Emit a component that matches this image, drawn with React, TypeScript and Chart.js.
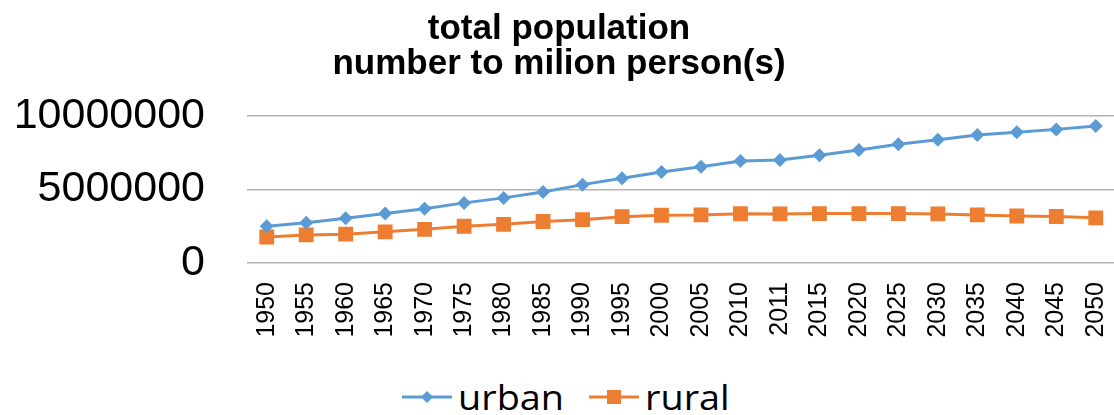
import React, { useEffect, useRef } from "react";
import { Chart, registerables } from "chart.js";

Chart.register(...registerables);

const years = ["1950","1955","1960","1965","1970","1975","1980","1985","1990","1995","2000","2005","2010","2011","2015","2020","2025","2030","2035","2040","2045","2050"];
const urban = [2500000,2740000,3050000,3370000,3690000,4090000,4430000,4830000,5330000,5770000,6190000,6550000,6940000,7010000,7330000,7690000,8080000,8380000,8700000,8900000,9090000,9320000];
const rural = [1770000,1910000,1960000,2120000,2290000,2500000,2630000,2820000,2950000,3150000,3250000,3270000,3350000,3340000,3360000,3360000,3360000,3340000,3270000,3200000,3160000,3070000];
const yTicks = [0, 5000000, 10000000];
const titleLines = ["total population", "number to milion person(s)"];
const seriesNames = ["urban", "rural"];

const BLUE = "#5b9bd5";
const ORANGE = "#ed7d31";

function LegendItem({ color, label, shape, gap }: { color: string; label: string; shape: "diamond" | "square"; gap: number }) {
  return (
    <div style={{ display: "flex", alignItems: "center", marginRight: gap }}>
      <svg width={50} height={20} style={{ marginRight: 6 }}>
        <line x1={0} y1={10} x2={50} y2={10} stroke={color} strokeWidth={3} />
        {shape === "diamond" ? (
          <polygon points="25,4 31,10 25,16 19,10" fill={color} />
        ) : (
          <rect x={18} y={3} width={14} height={14} fill={color} />
        )}
      </svg>
      <span style={{ display: "inline-block", transform: "scaleX(1.08)", transformOrigin: "left center" }}>{label}</span>
    </div>
  );
}

export default function App() {
  const ref = useRef<HTMLCanvasElement | null>(null);

  useEffect(() => {
    if (!ref.current) return;
    const chart = new Chart(ref.current, {
      type: "line",
      data: {
        labels: years,
        datasets: [
          {
            label: seriesNames[0],
            data: urban,
            borderColor: BLUE,
            backgroundColor: BLUE,
            borderWidth: 3,
            pointStyle: "rectRot",
            pointRadius: 7,
            pointBorderWidth: 0,
            tension: 0,
          },
          {
            label: seriesNames[1],
            data: rural,
            borderColor: ORANGE,
            backgroundColor: ORANGE,
            borderWidth: 3,
            pointStyle: "rect",
            pointRadius: 10.5,
            pointBorderWidth: 0,
            tension: 0,
          },
        ],
      },
      options: {
        animation: false,
        responsive: false,
        devicePixelRatio: 1,
        layout: { padding: { left: 0, right: 8, top: 0, bottom: 0 } },
        plugins: {
          legend: { display: false },
          tooltip: { enabled: false },
          title: {
            display: true,
            text: titleLines,
            color: "#000",
            font: { family: "'Liberation Sans', Arial, sans-serif", size: 35, weight: "bold", lineHeight: 1.0 },
            padding: { top: 12, bottom: 34 },
          },
        },
        scales: {
          x: {
            offset: true,
            grid: { display: false, drawTicks: false },
            border: { display: false },
            ticks: {
              autoSkip: false,
              minRotation: 90,
              maxRotation: 90,
              padding: 19,
              color: "#000",
              font: { family: "'Liberation Sans', Arial, sans-serif", size: 25 },
            },
            afterFit: (s: any) => {
              s.height = 87;
              s.paddingLeft = 0;
              s.paddingRight = 0;
            },
          },
          y: {
            min: 0,
            max: 10000000,
            afterBuildTicks: (s: any) => { s.ticks = yTicks.map((v) => ({ value: v })); },
            grid: { color: "#b3b3b3", lineWidth: 1.5, drawTicks: false },
            border: { display: false },
            ticks: {
              padding: 42,
              color: "#000",
              font: { family: "'Liberation Sans', Arial, sans-serif", size: 43 },
              callback: (v: any) => String(v),
            },
            afterFit: (s: any) => { s.width = 247; },
          },
        },
      },
    });
    return () => chart.destroy();
  }, []);

  return (
    <div style={{ position: "fixed", left: 0, top: 0, width: 1114, height: 415, overflow: "hidden", background: "#fff" }}>
      <canvas ref={ref} width={1126} height={350} style={{ position: "absolute", left: 0, top: 0, width: 1126, height: 350 }} />
      <div
        style={{
          position: "absolute",
          left: 402,
          top: 376,
          display: "flex",
          alignItems: "center",
          fontFamily: "'Open Sans', sans-serif",
          fontSize: 35,
          lineHeight: "42px",
          color: "#000",
        }}
      >
        <LegendItem color={BLUE} label={seriesNames[0]} shape="diamond" gap={33} />
        <LegendItem color={ORANGE} label={seriesNames[1]} shape="square" gap={0} />
      </div>
    </div>
  );
}
